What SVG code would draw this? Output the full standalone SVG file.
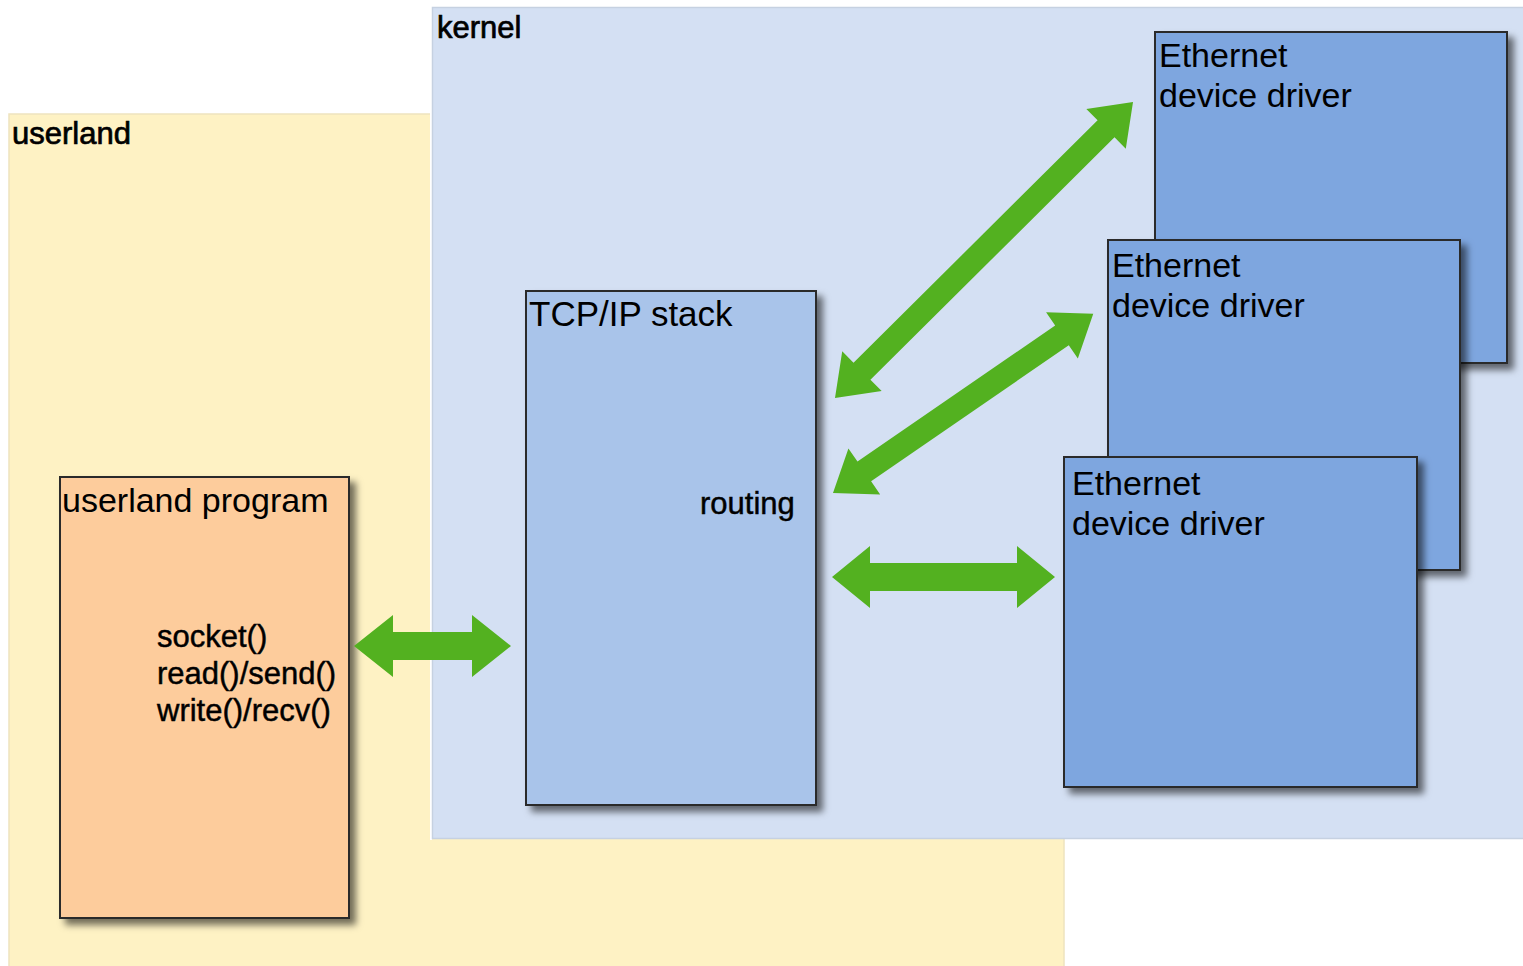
<svg xmlns="http://www.w3.org/2000/svg" width="1523" height="966" viewBox="0 0 1523 966">
  <defs>
    <filter id="shadow" x="-10%" y="-10%" width="130%" height="130%">
      <feDropShadow dx="6" dy="6" stdDeviation="3.5" flood-color="#000" flood-opacity="0.55"/>
    </filter>
  </defs>
  <style>
    text { font-family: "Liberation Sans", Arial, sans-serif; fill: #000; }
    .region-label { font-size: 31px; stroke: #000; stroke-width: 0.7; }
    .box-label { font-size: 34px; }
    .small { font-size: 31px; stroke: #000; stroke-width: 0.45; }
    .box { stroke: #2b2b2b; stroke-width: 2; filter: url(#shadow); }
    .prog { fill: #FDCC9C; }
    .stack { fill: #A9C4EA; }
    .eth { fill: #7EA6DF; }
    .arrow { fill: #53B120; }
  </style>

  <rect width="1523" height="966" fill="#ffffff"/>

  <!-- regions -->
  <g id="userland">
    <rect x="9" y="114" width="1055" height="860" fill="#FEF2C4" stroke="#EEE3BF" stroke-width="1.5"/>
    <text class="region-label" x="12" y="144">userland</text>
  </g>
  <g id="kernel">
    <line x1="431" y1="7" x2="431" y2="840" stroke="#ffffff" stroke-width="2"/>
    <rect x="432.5" y="7.5" width="1100" height="831" fill="#D4E0F3" stroke="#C6D1E1" stroke-width="1.5"/>
    <text class="region-label" x="437" y="38">kernel</text>
  </g>

  <!-- nodes -->
  <g id="userland-program">
    <rect class="box prog" x="60" y="477" width="289" height="441"/>
    <text class="box-label" x="62" y="512">userland program</text>
    <text class="small" x="157" y="647">socket()</text>
    <text class="small" x="157" y="684">read()/send()</text>
    <text class="small" x="157" y="721">write()/recv()</text>
  </g>

  <g id="tcpip-stack">
    <rect class="box stack" x="526" y="291" width="290" height="514"/>
    <text class="box-label" x="529" y="326" style="font-size:35px">TCP/IP stack</text>
    <text class="small" x="700" y="514">routing</text>
  </g>

  <g id="ethernet-driver-1">
    <rect class="box eth" x="1155" y="32" width="352" height="331"/>
    <text class="box-label" x="1159" y="67">Ethernet</text>
    <text class="box-label" x="1159" y="107">device driver</text>
  </g>

  <g id="ethernet-driver-2">
    <rect class="box eth" x="1108" y="240" width="352" height="330"/>
    <text class="box-label" x="1112" y="277">Ethernet</text>
    <text class="box-label" x="1112" y="317">device driver</text>
  </g>

  <g id="ethernet-driver-3">
    <rect class="box eth" x="1064" y="457" width="353" height="330"/>
    <text class="box-label" x="1072" y="495">Ethernet</text>
    <text class="box-label" x="1072" y="535">device driver</text>
  </g>

  <!-- connectors: double-headed block arrows -->
  <g id="connectors">
    <!-- program <-> stack -->
    <path class="arrow" transform="translate(354,646)"
          d="M0,0 L39,-31 L39,-14 L118,-14 L118,-31 L157,0 L118,31 L118,14 L39,14 L39,31 Z"/>
    <!-- stack <-> driver 3 -->
    <path class="arrow" transform="translate(832,577)"
          d="M0,0 L38,-31 L38,-14 L185,-14 L185,-31 L223,0 L185,31 L185,14 L38,14 L38,31 Z"/>
    <!-- stack <-> driver 1 -->
    <path class="arrow" transform="translate(835,398) rotate(-44.8)"
          d="M0,0 L38,-28 L38,-12 L382,-12 L382,-28 L420,0 L382,28 L382,12 L38,12 L38,28 Z"/>
    <!-- stack <-> driver 2 -->
    <path class="arrow" transform="translate(833,493) rotate(-34.55)"
          d="M0,0 L38,-28 L38,-12 L278,-12 L278,-28 L316,0 L278,28 L278,12 L38,12 L38,28 Z"/>
  </g>
</svg>
